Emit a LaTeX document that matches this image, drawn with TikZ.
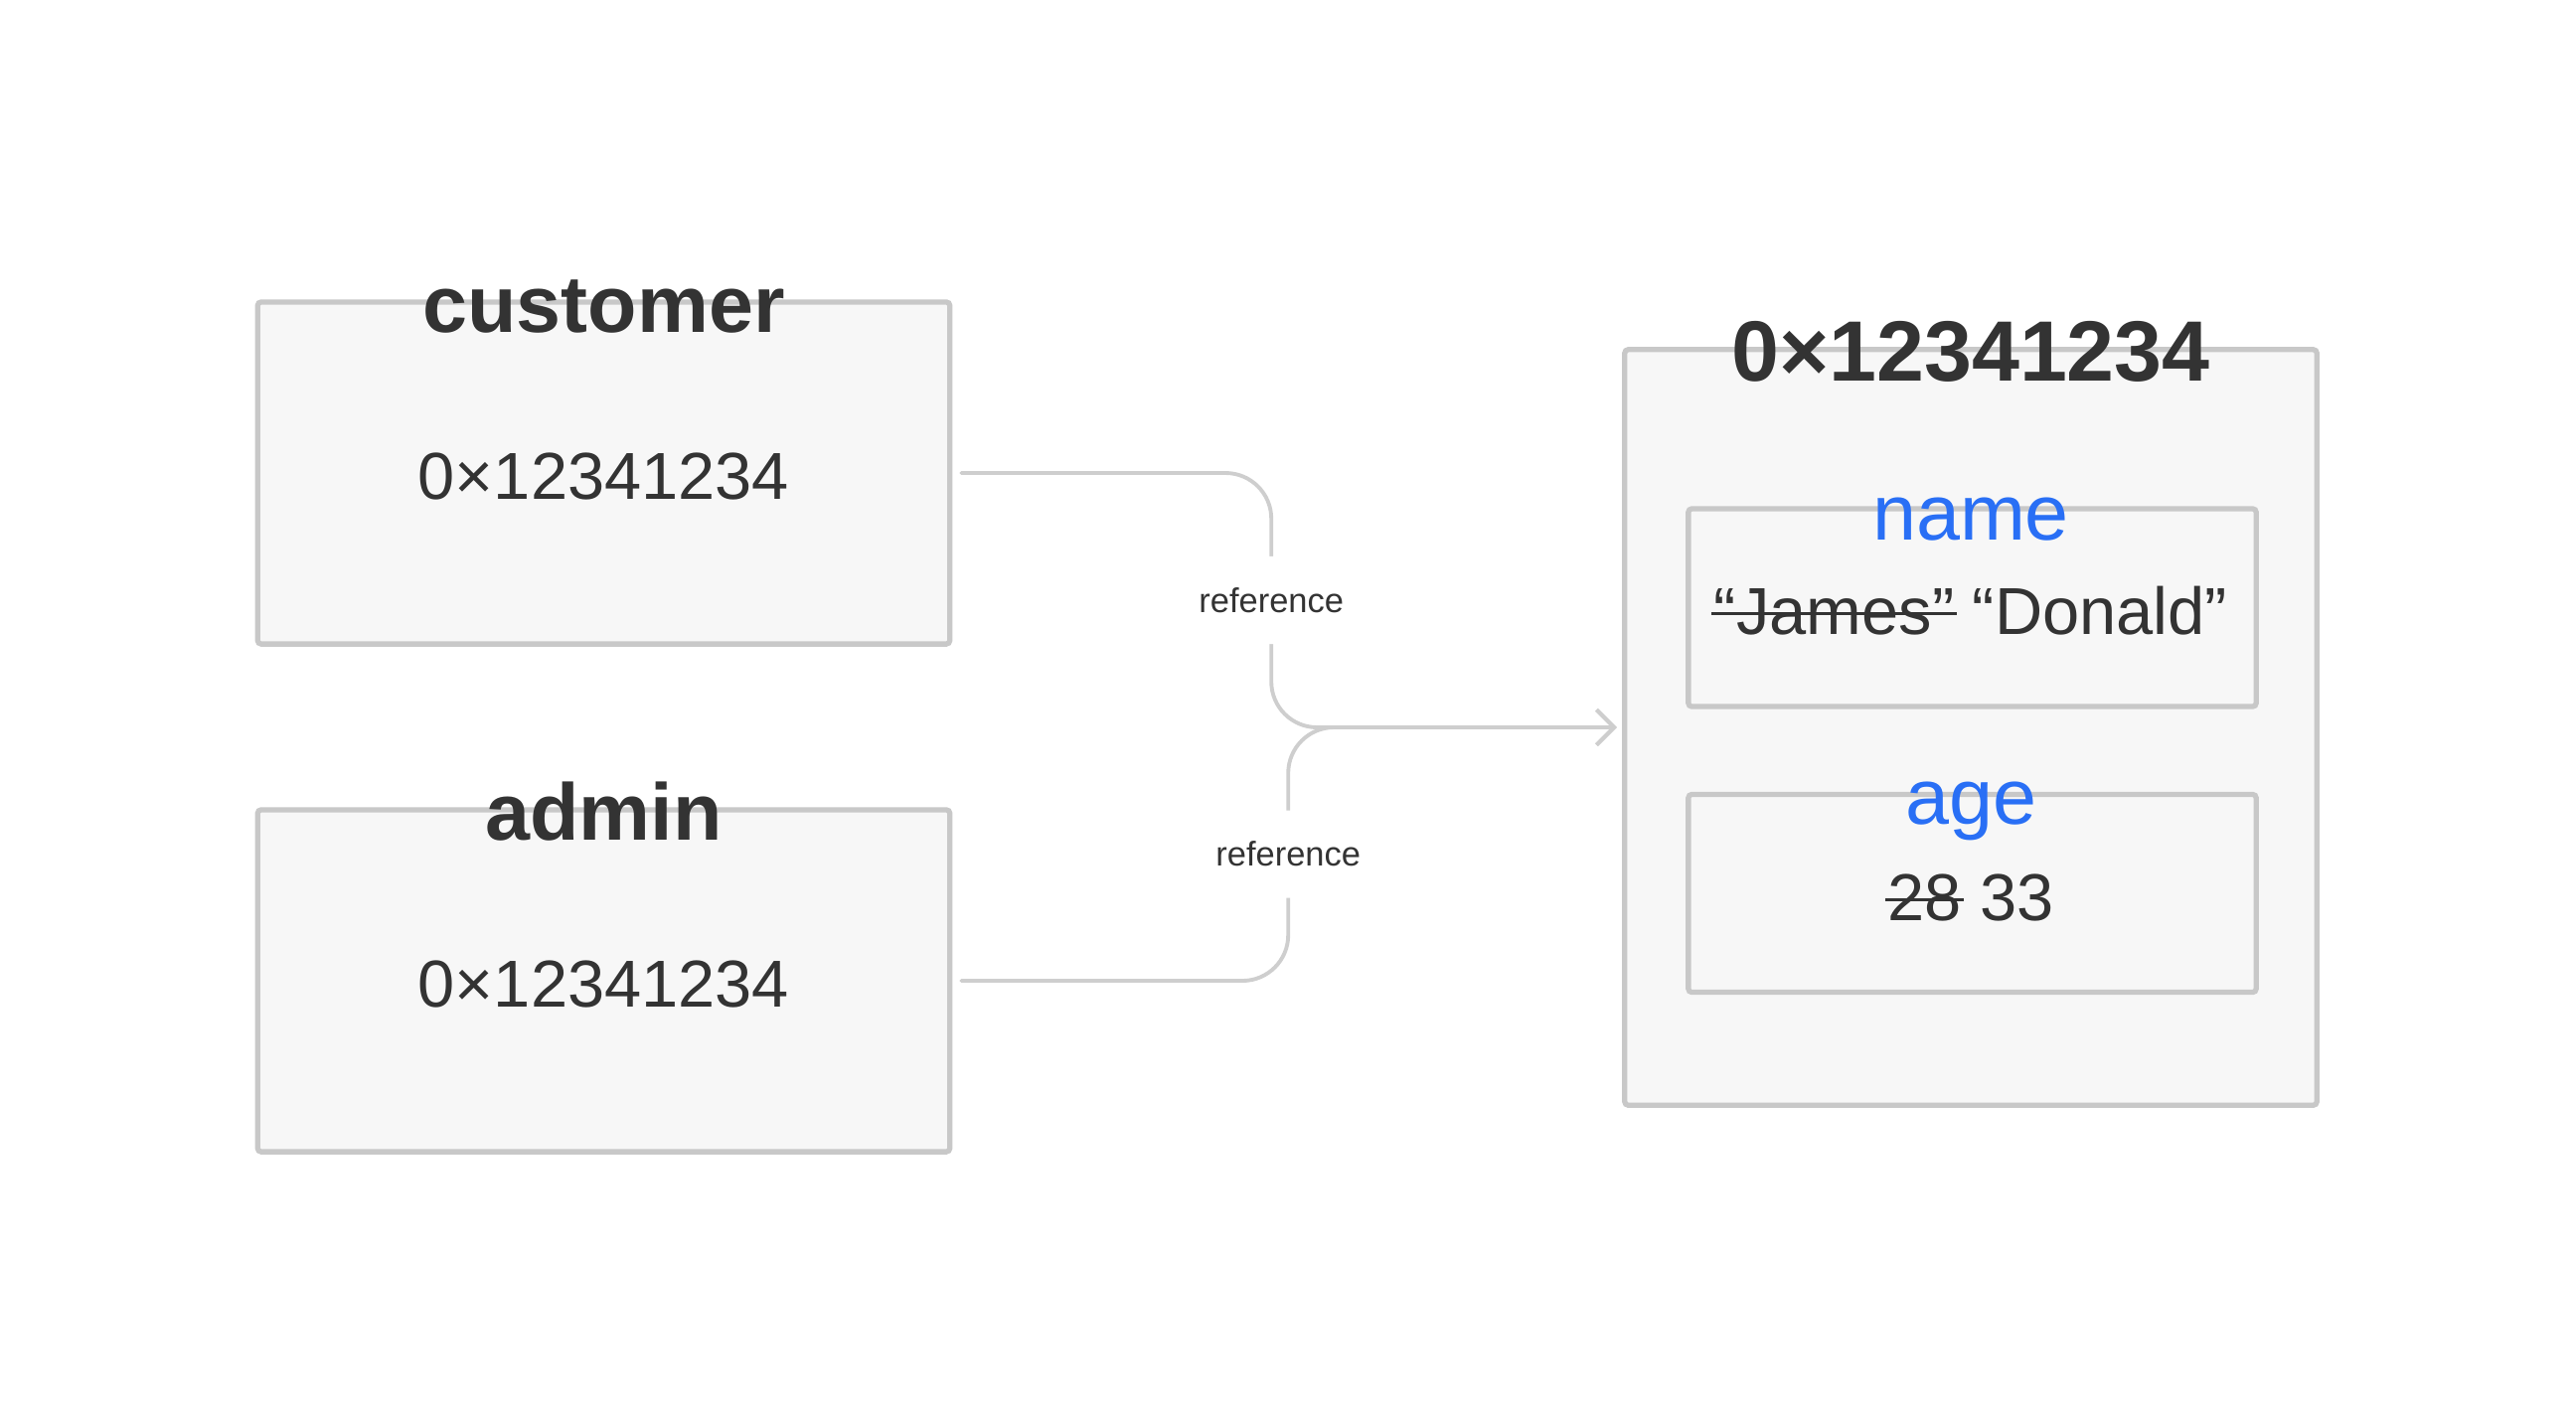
\documentclass[tikz,border=0pt]{standalone}
\usepackage{fontspec}
\setmainfont{Liberation Sans}
\usetikzlibrary{arrows.meta, calc}
\definecolor{boxline}{RGB}{200,200,200}
\definecolor{boxfill}{RGB}{247,247,247}
\definecolor{linkgray}{RGB}{206,206,206}
\definecolor{ink}{RGB}{51,51,51}
\definecolor{fieldblue}{RGB}{41,111,245}
\newcommand{\struck}[1]{\setbox0=\hbox{#1}\rlap{\hspace{-0.04em}\raisebox{0.29em}{\rule{\dimexpr\wd0+0.08em\relax}{0.85pt}}}\box0\relax}
\tikzset{
    memory/.style={x=0.01cm, y=-0.01cm},
    cell/.style={draw=boxline, fill=boxfill, line width=1.5pt, rounded corners=1pt, outer sep=0pt, minimum width=6.96cm, minimum height=3.44cm},
    field/.style={cell, minimum width=5.71cm, minimum height=1.99cm},
    varname/.style={anchor=base, text=ink, font=\fontsize{23}{27}\selectfont\bfseries},
    heapname/.style={anchor=base, text=ink, font=\fontsize{24.5}{29}\selectfont\bfseries},
    fieldname/.style={anchor=base, text=fieldblue, font=\fontsize{22.5}{27}\selectfont},
    value/.style={anchor=base, text=ink, font=\fontsize{19}{23}\selectfont},
    link/.style={draw=linkgray, line width=1.1pt, line cap=round, rounded corners=4.6mm, -{Straight Barb[length=5pt, width=10pt]}},
    refnote/.style={fill=white, text=ink, font=\fontsize{9.8}{12}\selectfont, minimum height=0.88cm, inner xsep=1pt},
}
\begin{document}
\begin{tikzpicture}[memory]
    \useasboundingbox (0,0) rectangle (2592,1420);

    % variables on the stack
    \node[cell] (cust) at (607.5,476) {};
    \node[cell] (adm) at (607.5,987) {};

    % object on the heap
    \node[cell, minimum height=7.6cm] (heap) at (1983,732) {};
    \node[field] (namebox) at (1984.5,611.5) {};
    \node[field] (agebox) at (1984.5,899) {};

    \node[varname] (custlabel) at (607.5,334) {customer};
    \node[value] (custaddr) at (607.5,502) {0×12341234};

    \node[varname] (admlabel) at (607.5,845) {admin};
    \node[value] (admaddr) at (607.5,1013) {0×12341234};

    \node[heapname] (heaplabel) at (1983,383) {0×12341234};

    \node[fieldname] (namelabel) at (1983,543) {name};
    \node[value] (nameval) at (1983,638) {\struck{“James”} “Donald”};

    \node[fieldname] (agelabel) at (1983,829) {age};
    \node[value] (ageval) at (1983,926) {\struck{28} 33};

    \draw[link] ([xshift=1.15mm]cust.east) -- ++(312,0)
        -- node[refnote] (refA) {reference} ++(0,256) -- ([xshift=-0.8mm]heap.west);

    \draw[link] ([xshift=1.15mm]adm.east) -- ++(329,0)
        -- node[refnote] (refB) {reference} ++(0,-255) -- ([xshift=-0.8mm]heap.west);
\end{tikzpicture}
\end{document}
